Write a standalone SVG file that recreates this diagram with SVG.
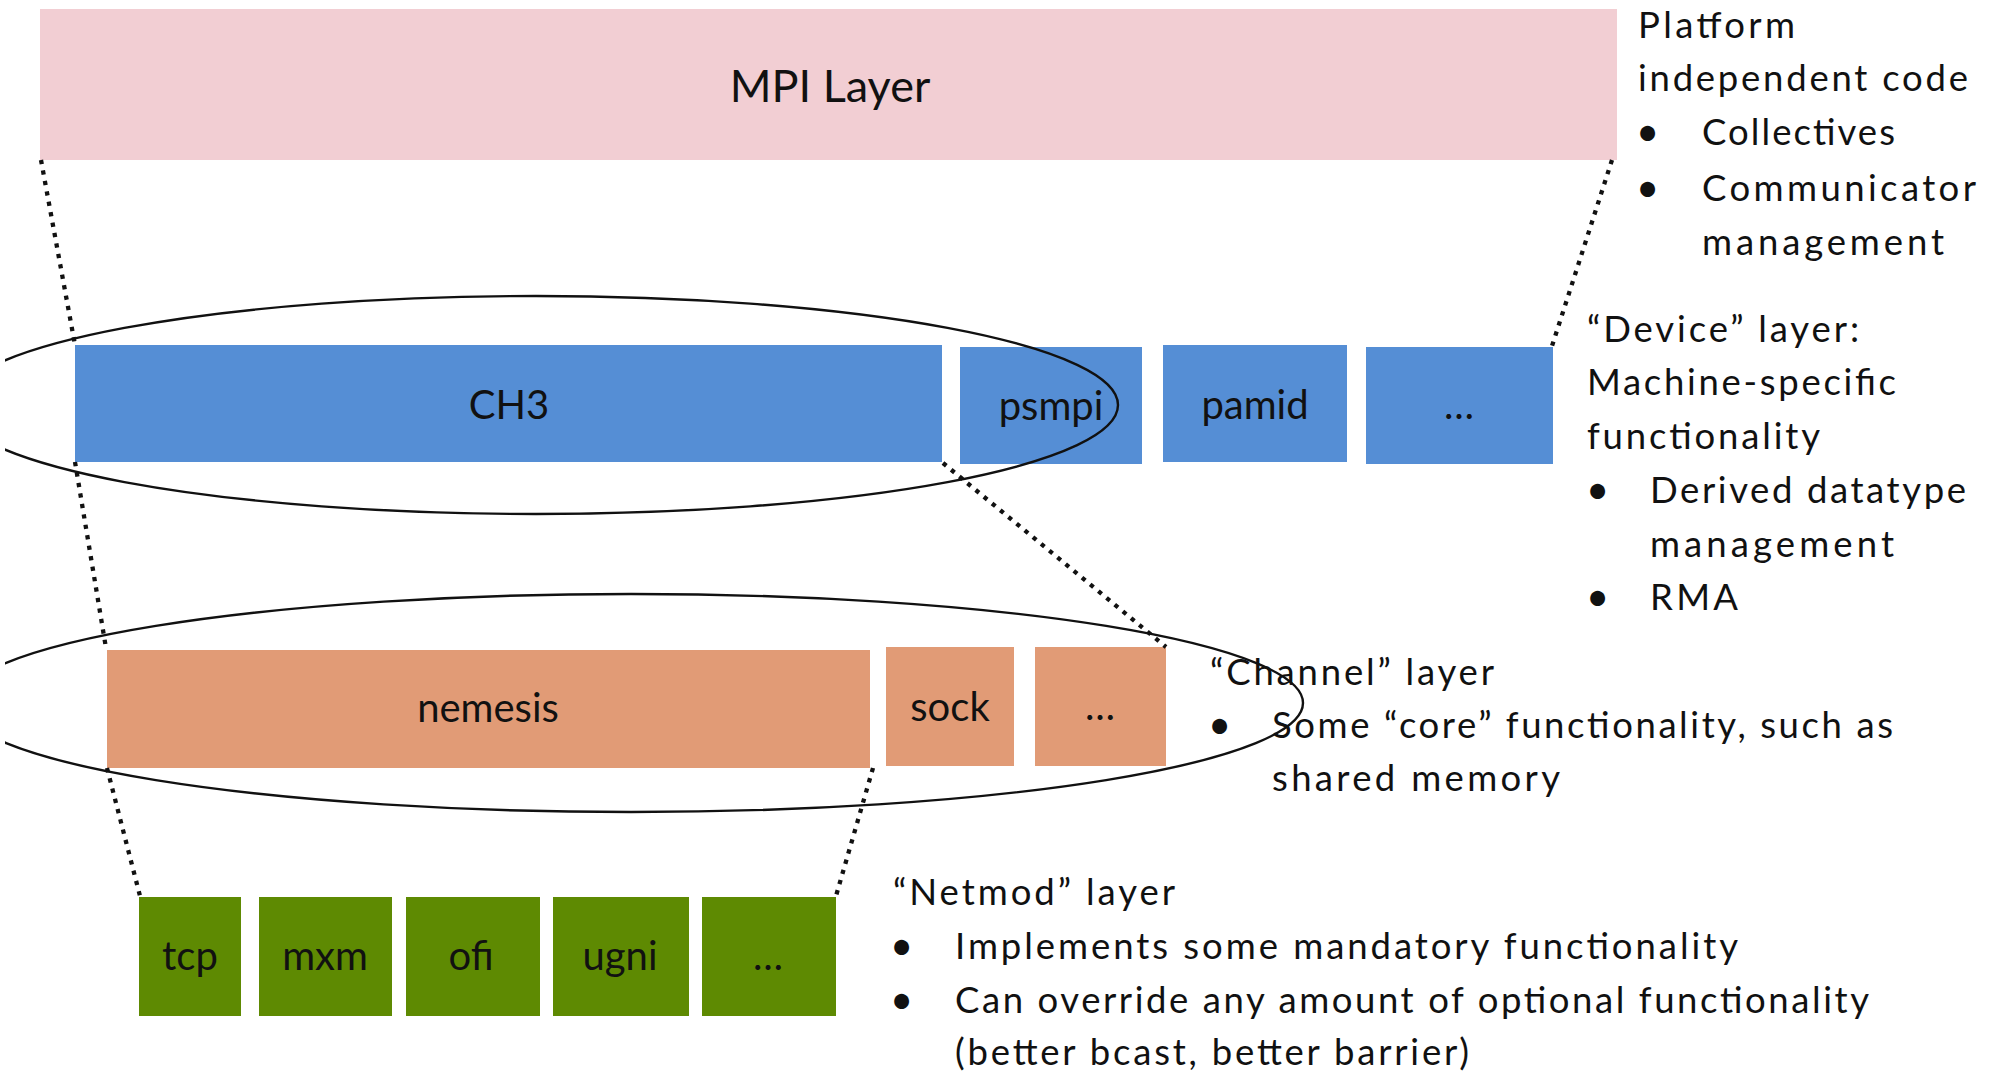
<svg xmlns="http://www.w3.org/2000/svg" width="2000" height="1075" viewBox="0 0 2000 1075">
<defs>
  <clipPath id="clipL"><rect x="5" y="0" width="1995" height="1075"/></clipPath>
</defs>
<style>
  text { font-family: Lato, "Liberation Sans", sans-serif; fill: #111; }
  .node { font-size: 40px; text-anchor: middle; }
  .big { font-size: 45px; text-anchor: middle; }
  .desc { font-size: 36.5px; }
  .bul { font-size: 40px; }
  .mpi { fill: #F2CED3; }
  .dev { fill: #558ED5; }
  .ch { fill: #E19B76; }
  .nm { fill: #5E8A02; }
  .ring { fill: none; stroke: #111; stroke-width: 2.4; }
  .dot { fill: none; stroke: #111; stroke-width: 4.3; stroke-dasharray: 4.3 6.3; }
</style>
<rect width="2000" height="1075" fill="#fff"/>

<g id="mpi-layer"><rect class="mpi" x="40" y="9" width="1577" height="151"/><text class="big" x="830" y="102">MPI Layer</text></g>

<g id="ch3"><rect class="dev" x="75" y="345" width="867" height="117"/><text class="node" x="509" y="419">CH3</text></g>
<g id="psmpi"><rect class="dev" x="960" y="347" width="182" height="117"/><text class="node" x="1051" y="420">psmpi</text></g>
<g id="pamid"><rect class="dev" x="1163" y="345" width="184" height="117"/><text class="node" x="1255" y="419">pamid</text></g>
<g id="dev-more"><rect class="dev" x="1366" y="347" width="187" height="117"/><text class="node" x="1459" y="419">…</text></g>

<g id="nemesis"><rect class="ch" x="107" y="650" width="763" height="118"/><text class="node" x="488" y="722">nemesis</text></g>
<g id="sock"><rect class="ch" x="886" y="647" width="128" height="119"/><text class="node" x="950" y="721">sock</text></g>
<g id="ch-more"><rect class="ch" x="1035" y="647" width="131" height="119"/><text class="node" x="1100" y="720">…</text></g>

<g id="tcp"><rect class="nm" x="139" y="897" width="102" height="119"/><text class="node" x="190" y="970">tcp</text></g>
<g id="mxm"><rect class="nm" x="259" y="897" width="133" height="119"/><text class="node" x="325" y="970">mxm</text></g>
<g id="ofi"><rect class="nm" x="406" y="897" width="134" height="119"/><text class="node" x="471" y="970">ofi</text></g>
<g id="ugni"><rect class="nm" x="553" y="897" width="136" height="119"/><text class="node" x="620" y="970">ugni</text></g>
<g id="nm-more"><rect class="nm" x="702" y="897" width="134" height="119"/><text class="node" x="768" y="970">…</text></g>

<g id="device-group" clip-path="url(#clipL)"><ellipse class="ring" cx="536" cy="405" rx="582" ry="109"/></g>
<g id="channel-group" clip-path="url(#clipL)"><ellipse class="ring" cx="631" cy="703" rx="672" ry="109"/></g>

<g id="connectors">
  <line class="dot" x1="41" y1="160" x2="75" y2="345"/>
  <line class="dot" x1="1612" y1="160" x2="1552" y2="346"/>
  <line class="dot" x1="75" y1="462" x2="106" y2="648"/>
  <line class="dot" x1="943" y1="463" x2="1166" y2="647"/>
  <line class="dot" x1="107" y1="768" x2="140" y2="896"/>
  <line class="dot" x1="873" y1="768" x2="836" y2="896"/>
</g>

<g id="mpi-desc">
  <text class="desc" x="1638" y="38" textLength="157">Platform</text>
  <text class="desc" x="1638" y="91" textLength="330">independent code</text>
  <text class="bul" x="1636" y="146">•</text><text class="desc" x="1702" y="145" textLength="193">Collectives</text>
  <text class="bul" x="1636" y="202">•</text><text class="desc" x="1702" y="201" textLength="274">Communicator</text>
  <text class="desc" x="1702" y="255" textLength="242">management</text>
</g>

<g id="device-desc">
  <text class="desc" x="1587" y="342" textLength="272">“Device” layer:</text>
  <text class="desc" x="1587" y="395" textLength="309">Machine-specific</text>
  <text class="desc" x="1587" y="449" textLength="233">functionality</text>
  <text class="bul" x="1586" y="504">•</text><text class="desc" x="1650" y="503" textLength="316">Derived datatype</text>
  <text class="desc" x="1650" y="557" textLength="244">management</text>
  <text class="bul" x="1586" y="611">•</text><text class="desc" x="1650" y="610" textLength="88">RMA</text>
</g>

<g id="channel-desc">
  <text class="desc" x="1210" y="685" textLength="284">“Channel” layer</text>
  <text class="bul" x="1208" y="739">•</text><text class="desc" x="1272" y="738" textLength="621">Some “core” functionality, such as</text>
  <text class="desc" x="1272" y="791" textLength="288">shared memory</text>
</g>

<g id="netmod-desc">
  <text class="desc" x="893" y="905" textLength="282">“Netmod” layer</text>
  <text class="bul" x="890" y="960">•</text><text class="desc" x="955" y="959" textLength="783">Implements some mandatory functionality</text>
  <text class="bul" x="890" y="1014">•</text><text class="desc" x="955" y="1013" textLength="914">Can override any amount of optional functionality</text>
  <text class="desc" x="955" y="1065" textLength="514">(better bcast, better barrier)</text>
</g>
</svg>
